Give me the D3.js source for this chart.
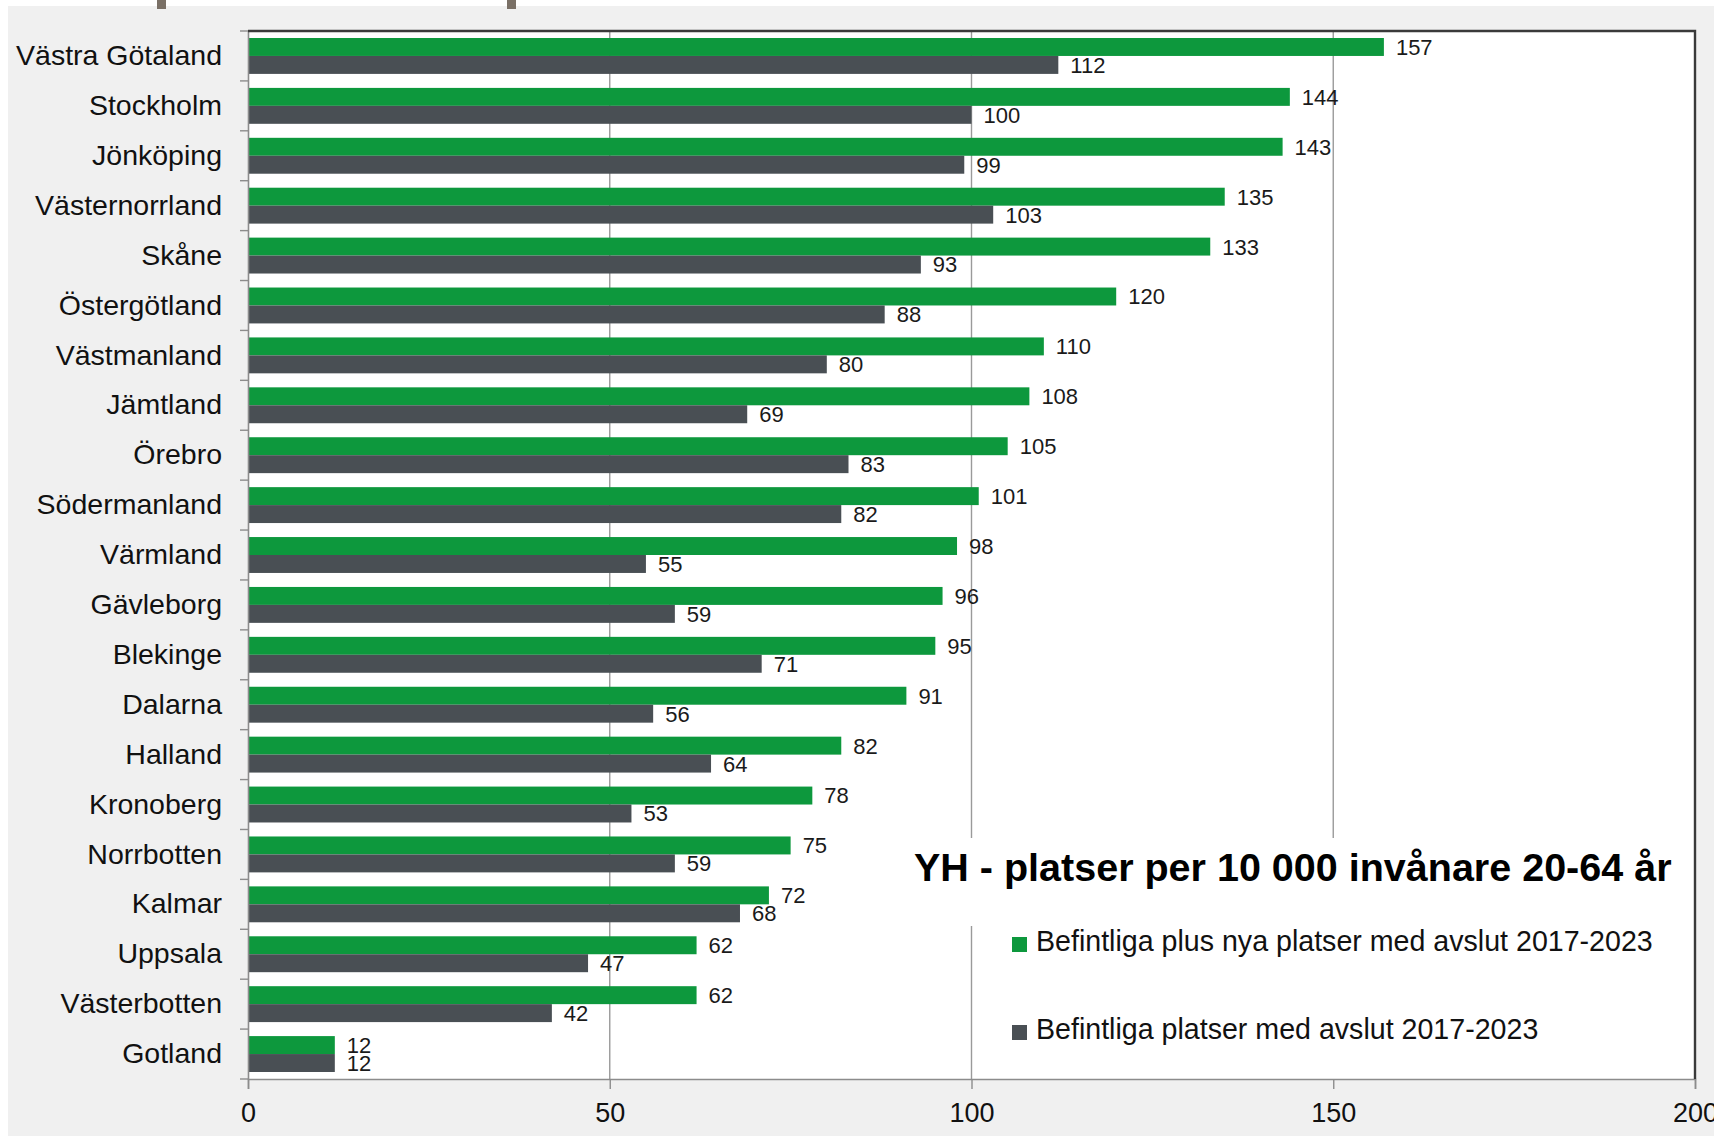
<!DOCTYPE html>
<html>
<head>
<meta charset="utf-8">
<script src="https://cdn.jsdelivr.net/npm/d3@7"></script>
<style>
  body { margin: 0; background: #fff; }
  svg { display: block; }
  text { font-family: "Liberation Sans", Arial, sans-serif; }
</style>
</head>
<body>
<svg id="chart" width="1714" height="1136"></svg>
<script>
const regions = [
  "Västra Götaland", "Stockholm", "Jönköping", "Västernorrland", "Skåne",
  "Östergötland", "Västmanland", "Jämtland", "Örebro", "Södermanland",
  "Värmland", "Gävleborg", "Blekinge", "Dalarna", "Halland", "Kronoberg",
  "Norrbotten", "Kalmar", "Uppsala", "Västerbotten", "Gotland"
];
const plusNya = [157, 144, 143, 135, 133, 120, 110, 108, 105, 101, 98, 96, 95, 91, 82, 78, 75, 72, 62, 62, 12];
const befintliga = [112, 100, 99, 103, 93, 88, 80, 69, 83, 82, 55, 59, 71, 56, 64, 53, 59, 68, 47, 42, 12];
const seriesNames = [
  "Befintliga plus nya platser med avslut 2017-2023",
  "Befintliga platser med avslut 2017-2023"
];
const seriesColors = ["#0d983d", "#494f54"];
const xTicks = [0, 50, 100, 150, 200];
const title = "YH - platser per 10 000 invånare 20-64 år";

const svg = d3.select("#chart");
const W = 1714, H = 1136;
const m = { top: 31, right: 19, bottom: 57, left: 248 };

// background: white frame strips, then grey panel
svg.append("rect").attr("width", W).attr("height", H).attr("fill", "#fff");
svg.append("rect").attr("x", 8).attr("y", 6).attr("width", W - 8).attr("height", H - 6).attr("fill", "#f0f0f0");
// bits of the element above, cut off at the top
svg.selectAll(".stub").data([157, 507]).join("rect")
  .attr("x", d => d).attr("y", 0).attr("width", 9).attr("height", 9).attr("fill", "#7a7066");

const x = d3.scaleLinear().domain([0, 200]).range([m.left, W - m.right]);
const y = d3.scaleBand().domain(regions).range([m.top, H - m.bottom]);
const yInner = d3.scaleBand().domain([0, 1]).range([0, y.bandwidth()]).paddingInner(0).paddingOuter(0.39);

// plot area
svg.append("rect")
  .attr("x", x(0)).attr("y", m.top)
  .attr("width", x(200) - x(0)).attr("height", H - m.bottom - m.top)
  .attr("fill", "#fff");

// vertical gridlines
svg.append("g").selectAll("line").data(xTicks.slice(1, -1)).join("line")
  .attr("x1", d => x(d)).attr("x2", d => x(d))
  .attr("y1", m.top).attr("y2", H - m.bottom)
  .attr("stroke", "#9a9a9a").attr("stroke-width", 1.4);

// bars
const rows = regions.map((r, i) => ({ region: r, values: [plusNya[i], befintliga[i]] }));
const groups = svg.append("g").selectAll("g").data(rows).join("g")
  .attr("transform", d => `translate(0,${y(d.region)})`);

groups.selectAll("rect").data(d => d.values.map((v, k) => ({ v, k }))).join("rect")
  .attr("x", x(0))
  .attr("y", d => yInner(d.k))
  .attr("width", d => x(d.v) - x(0))
  .attr("height", yInner.bandwidth())
  .attr("fill", d => seriesColors[d.k]);

groups.selectAll("text").data(d => d.values.map((v, k) => ({ v, k }))).join("text")
  .attr("x", d => x(d.v) + 12)
  .attr("y", d => yInner(d.k) + yInner.bandwidth() / 2)
  .attr("dy", "0.36em")
  .attr("font-size", 22)
  .attr("fill", "#1a1a1a")
  .text(d => d.v);

// title and legend boxes cover the gridlines
svg.append("rect").attr("x", 905).attr("y", 838).attr("width", x(200) - 905).attr("height", 88).attr("fill", "#fff");
svg.append("rect").attr("x", 1000).attr("y", 926).attr("width", x(200) - 1000).attr("height", H - m.bottom - 926).attr("fill", "#fff");

svg.append("text")
  .attr("x", 914).attr("y", 881)
  .attr("font-size", 39.5).attr("font-weight", "bold").attr("fill", "#000")
  .text(title);

const legend = svg.append("g").selectAll("g").data(seriesNames).join("g")
  .attr("transform", (d, i) => `translate(1012,${937 + i * 88})`);
legend.append("rect").attr("width", 15).attr("height", 15).attr("fill", (d, i) => seriesColors[i]);
legend.append("text").attr("x", 24).attr("y", 14)
  .attr("font-size", 28.6).attr("fill", "#111")
  .text(d => d);

// x axis
const xAxis = svg.append("g")
  .attr("transform", `translate(0,${H - m.bottom})`)
  .call(d3.axisBottom(x).tickValues(xTicks).tickSize(10).tickPadding(14));
xAxis.select(".domain").attr("stroke", "#8c8c8c").attr("stroke-width", 1.6);
xAxis.selectAll(".tick line").attr("stroke", "#8c8c8c").attr("stroke-width", 1.4);
xAxis.selectAll(".tick text").attr("font-size", 27).attr("fill", "#111")
  .style("font-family", '"Liberation Sans", Arial, sans-serif');

// y axis: labels centred on bands, ticks on band edges
const yAxis = svg.append("g")
  .attr("transform", `translate(${x(0)},0)`)
  .call(d3.axisLeft(y).tickSize(0).tickPadding(26));
yAxis.select(".domain").attr("stroke", "#8c8c8c").attr("stroke-width", 1.6);
yAxis.selectAll(".tick text").attr("font-size", 28.5).attr("fill", "#111")
  .style("font-family", '"Liberation Sans", Arial, sans-serif');
svg.append("g").selectAll("line").data(regions.concat([null])).join("line")
  .attr("x1", x(0) - 8).attr("x2", x(0))
  .attr("y1", (d, i) => m.top + i * y.step()).attr("y2", (d, i) => m.top + i * y.step())
  .attr("stroke", "#8c8c8c").attr("stroke-width", 1.4);

// dark frame on top and right
svg.append("path")
  .attr("d", `M${x(0)},${m.top}H${x(200)}V${H - m.bottom}`)
  .attr("fill", "none").attr("stroke", "#3a3a3a").attr("stroke-width", 2.4);
</script>
</body>
</html>
